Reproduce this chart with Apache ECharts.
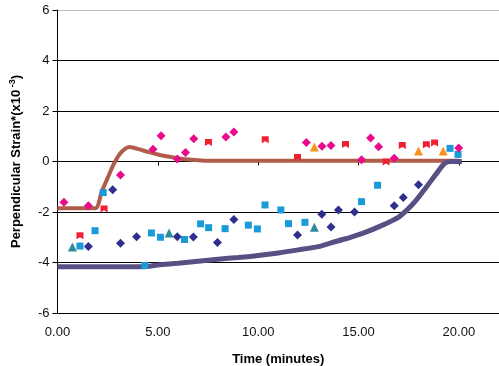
<!DOCTYPE html>
<html>
<head>
<meta charset="utf-8">
<script src="https://cdn.jsdelivr.net/npm/echarts@6/dist/echarts.min.js"></script>
<style>
    html, body { margin: 0; padding: 0; background: #fff; }
    #chart { width: 499px; height: 366px; }
</style>
</head>
<body>
<div id="chart"></div>
<script>
    // fitted curves (time in minutes, strain x10^-3)
    const brownTime = [0, 1.9, 2.2, 2.5, 2.8, 3.1, 3.4, 3.6, 4.0, 4.5, 5.0, 5.5, 6.0, 6.5, 7.0, 7.5, 20.0];
    const brownStrain = [-1.85, -1.85, -1.2, -0.65, -0.1, 0.3, 0.52, 0.57, 0.5, 0.38, 0.28, 0.2, 0.13, 0.08, 0.05, 0.03, 0.03];

    const purpleTime = [0, 4.3, 5, 6, 7, 8, 9, 10, 11, 12, 13, 13.6, 14.4, 15.2, 16.2, 17, 17.4, 17.8, 18.4, 18.9, 19.3, 19.6, 20.15];
    const purpleStrain = [-4.17, -4.17, -4.1, -4.03, -3.95, -3.87, -3.8, -3.72, -3.62, -3.5, -3.37, -3.23, -3.05, -2.85, -2.52, -2.2, -1.93, -1.6, -0.99, -0.46, -0.07, 0, 0];

    // measured points [time, strain]
    const magentaPts = [[0.32, -1.61], [1.54, -1.75], [3.14, -0.53], [4.76, 0.49], [5.16, 1.02], [5.97, 0.1], [6.38, 0.36], [6.79, 0.9], [8.39, 0.97], [8.79, 1.17], [12.4, 0.75], [13.18, 0.6], [13.63, 0.63], [15.15, 0.07], [15.6, 0.93], [16.0, 0.58], [16.78, 0.13], [19.99, 0.53]];
    const redPts = [[1.12, -2.94], [2.32, -1.88], [7.52, 0.75], [10.35, 0.86], [11.96, 0.16], [14.35, 0.67], [16.37, -0.02], [17.18, 0.63], [18.38, 0.66], [18.79, 0.73]];
    const cyanPts = [[1.12, -3.35], [1.87, -2.74], [2.28, -1.23], [4.35, -4.12], [4.68, -2.83], [5.13, -3.0], [6.33, -3.09], [7.13, -2.47], [7.53, -2.62], [8.35, -2.66], [9.51, -2.52], [9.96, -2.67], [10.34, -1.72], [11.13, -1.92], [11.51, -2.46], [12.33, -2.41], [15.15, -1.59], [15.95, -0.94], [19.56, 0.52], [19.96, 0.28]];
    const navyPts = [[1.54, -3.37], [2.75, -1.12], [3.14, -3.24], [3.94, -2.98], [5.97, -2.98], [6.77, -2.99], [7.97, -3.21], [8.79, -2.3], [11.96, -2.91], [13.17, -2.09], [13.63, -2.59], [14.0, -1.92], [14.8, -2.0], [16.78, -1.75], [17.23, -1.43], [17.99, -0.92]];
    const tealPts = [[0.74, -3.39], [5.56, -2.83], [12.8, -2.6]];
    const orangePts = [[12.8, 0.57], [17.99, 0.42], [19.22, 0.42]];

    const xTicks = [0, 5, 10, 15, 20];

    const font = 'Liberation Sans, Arial, sans-serif';
    const notchSquare = 'path://M0,0 L10,0 L10,10 L5,7 L0,10 Z';

    function zip(xs, ys) {
        return xs.map(function (x, i) { return [x, ys[i]]; });
    }

    function scatter(data, symbol, size, color) {
        return {
            type: 'scatter',
            data: data,
            symbol: symbol,
            symbolSize: size,
            itemStyle: { color: color, opacity: 1 },
            silent: true,
            z: 3
        };
    }

    const chart = echarts.init(document.getElementById('chart'));
    chart.setOption({
        animation: false,
        grid: { left: 57.5, right: 0, top: 10, bottom: 53, outerBoundsMode: 'none', containLabel: false },
        xAxis: {
            type: 'value',
            min: 0,
            max: 22,
            interval: 5,
            name: 'Time (minutes)',
            nameLocation: 'middle',
            nameGap: 40,
            nameTextStyle: { fontFamily: font, fontSize: 13, fontWeight: 'bold', color: '#000' },
            axisLine: { lineStyle: { color: '#000', width: 1 } },
            axisTick: { length: 4, lineStyle: { color: '#000' } },
            axisLabel: {
                fontFamily: font, fontSize: 13, color: '#111', margin: 13,
                formatter: function (v) { return xTicks.indexOf(v) >= 0 ? v.toFixed(2) : ''; }
            },
            splitLine: { show: false }
        },
        yAxis: {
            type: 'value',
            min: -6,
            max: 6,
            interval: 2,
            name: '{a|Perpendicular Strain*(x10}{s| -3}{a|)}',
            nameLocation: 'middle',
            nameGap: 33,
            nameTextStyle: {
                rich: {
                    a: { fontFamily: font, fontSize: 13, fontWeight: 'bold', color: '#000' },
                    s: { fontFamily: font, fontSize: 9, fontWeight: 'bold', color: '#000', padding: [0, 0, 7, 0] }
                }
            },
            axisLine: { show: true, lineStyle: { color: '#000', width: 1 } },
            axisTick: { show: true, length: 5, lineStyle: { color: '#000' } },
            axisLabel: { fontFamily: font, fontSize: 13, color: '#111', margin: 8 },
            splitLine: {
                lineStyle: { color: ['#000', '#000', '#000', '#000', '#000', '#000', '#bbb'], width: 1 }
            }
        },
        series: [
            {
                type: 'line',
                data: zip(brownTime, brownStrain),
                showSymbol: false,
                smooth: 0.2,
                lineStyle: { color: '#b05c4b', width: 4 },
                silent: true,
                z: 2
            },
            {
                type: 'line',
                data: zip(purpleTime, purpleStrain),
                showSymbol: false,
                smooth: 0.3,
                lineStyle: { color: '#585082', width: 5 },
                silent: true,
                z: 2
            },
            scatter(cyanPts, 'rect', 7, '#1a9ad8'),
            scatter(navyPts, 'diamond', 9, '#2f2f8f'),
            scatter(tealPts, 'triangle', 9, '#2f8a9c'),
            scatter(orangePts, 'triangle', 9, '#f7941d'),
            scatter(redPts, notchSquare, 7, '#ee2233'),
            scatter(magentaPts, 'diamond', 9, '#ea0b8c')
        ]
    });
</script>
</body>
</html>
